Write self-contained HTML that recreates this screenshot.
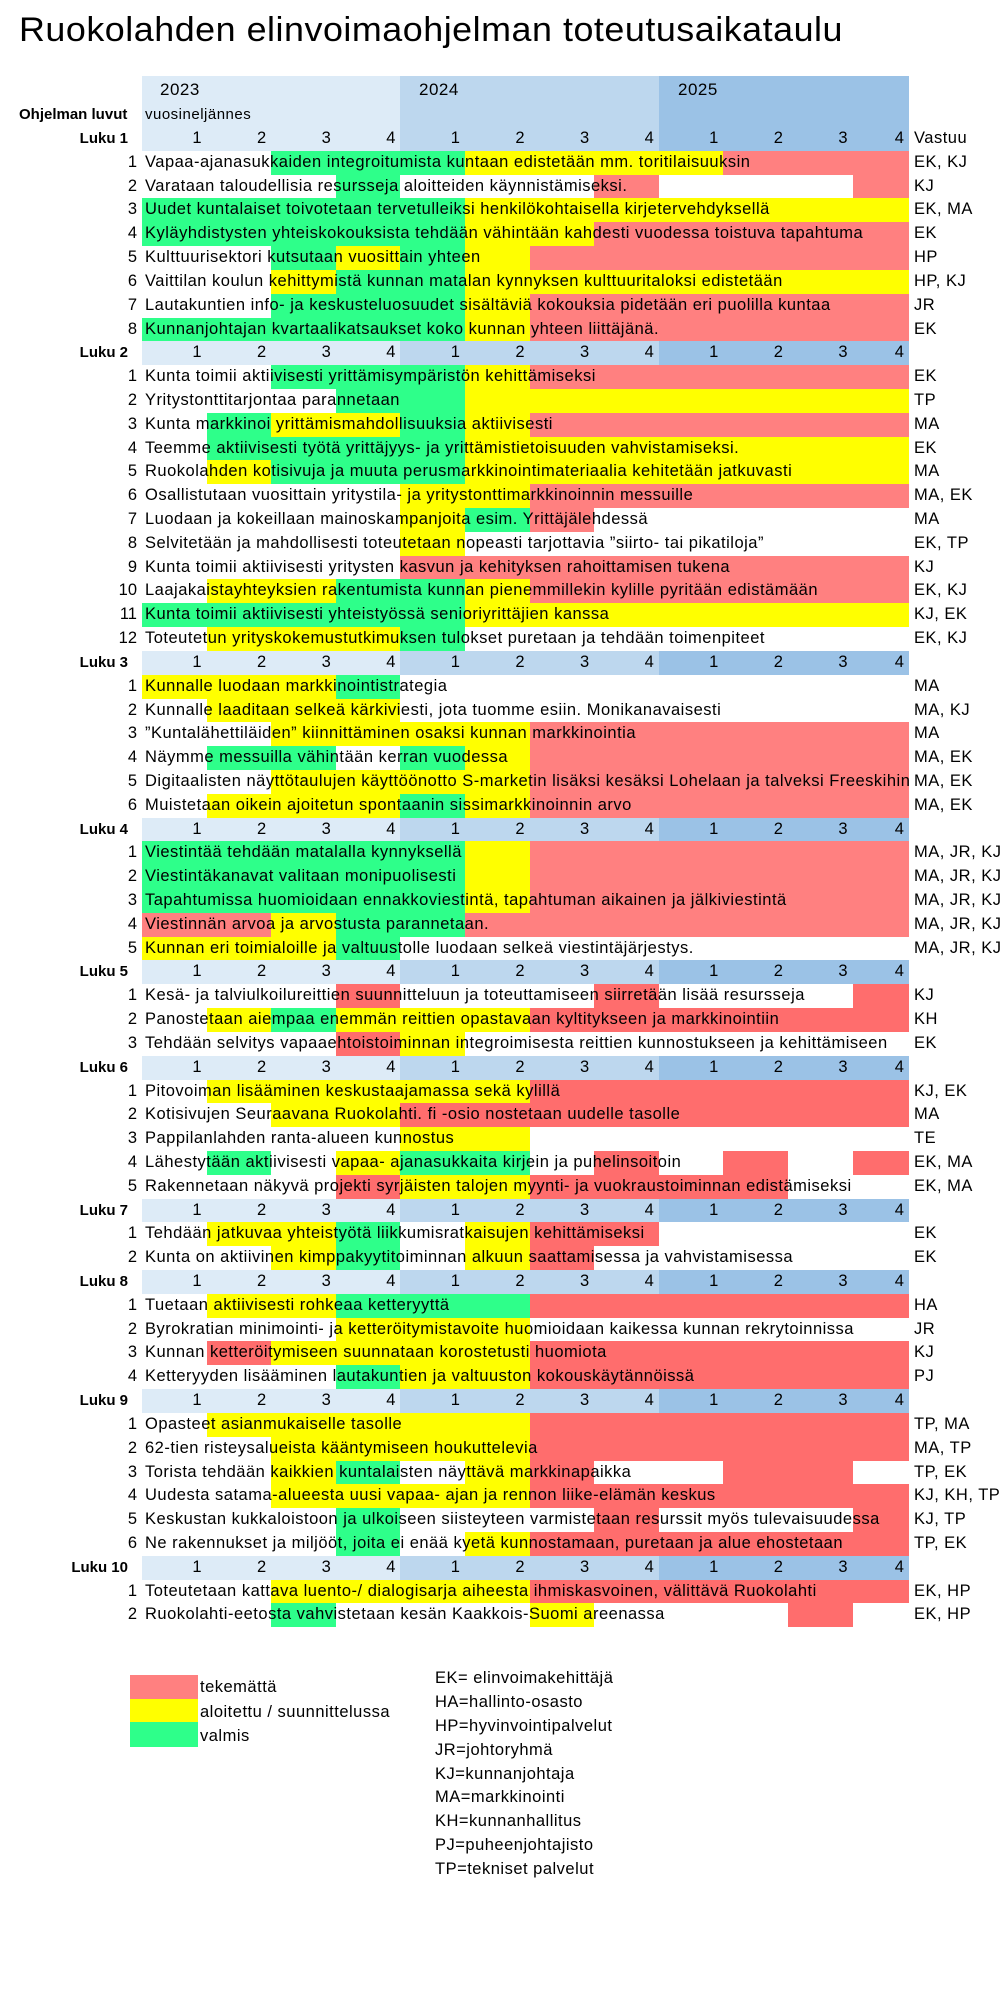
<!DOCTYPE html>
<html><head><meta charset="utf-8"><style>
body{margin:0;width:1001px;height:2000px;position:relative;font-family:"Liberation Sans",sans-serif;font-size:16.5px;letter-spacing:0.5px;background:#fff;overflow:hidden;color:#000}
.hd{position:absolute;top:76px;height:51px}
.r{position:relative;height:23.82px;line-height:23.82px;white-space:nowrap}
.g{position:absolute;left:142px;top:0;height:100%;display:grid;grid-template-columns:repeat(11,64.6px) 56.4px;letter-spacing:0}
.g i{display:block;font-style:normal;text-align:right;padding-right:5px;height:100%}
.n{position:absolute;left:0;width:137px;text-align:right;letter-spacing:0}
.t{position:absolute;left:145px}
.v{position:absolute;left:914px}
.l{position:absolute;left:0;width:128px;text-align:right;font-weight:bold;font-size:15px;letter-spacing:0}
.R{background:#FF8080}.S{background:#FF6D6D}.Y{background:#FFFF00}.G{background:#2EFF8A}.W{}
.a{background:#DDEBF7}.b{background:#BDD7EE}.c{background:#9BC2E6}
#rows{position:absolute;top:127px;left:0;width:1001px}
.lg{position:absolute;left:130px;width:68px}
.lt{position:absolute;left:200px;line-height:24px}
.ab{position:absolute;left:435px;line-height:24px}
</style></head><body>
<svg style="position:absolute;left:0;top:0" width="1001" height="60"><text x="19" y="41" font-family="Liberation Sans, sans-serif" font-size="34" textLength="824" lengthAdjust="spacingAndGlyphs">Ruokolahden elinvoimaohjelman toteutusaikataulu</text></svg>
<div class="hd a" style="left:142px;width:258px"></div>
<div class="hd b" style="left:400px;width:259px"></div>
<div class="hd c" style="left:659px;width:250px"></div>
<div style="position:absolute;left:160px;top:80px;font-size:17px">2023</div>
<div style="position:absolute;left:419px;top:80px;font-size:17px">2024</div>
<div style="position:absolute;left:678px;top:80px;font-size:17px">2025</div>
<div style="position:absolute;left:19px;top:106px;font-size:15px;font-weight:bold;letter-spacing:0">Ohjelman luvut</div>
<div style="position:absolute;left:145px;top:106px;font-size:15px">vuosineljännes</div>
<div id="rows">
<div class="r"><b class="l">Luku 1</b><div class="g"><i class="a">1</i><i class="a">2</i><i class="a">3</i><i class="a">4</i><i class="b">1</i><i class="b">2</i><i class="b">3</i><i class="b">4</i><i class="c">1</i><i class="c">2</i><i class="c">3</i><i class="c">4</i></div><span class="v">Vastuu</span></div>
<div class="r"><span class="n">1</span><div class="g"><i class="W"></i><i class="W"></i><i class="G"></i><i class="G"></i><i class="G"></i><i class="Y"></i><i class="Y"></i><i class="Y"></i><i class="Y"></i><i class="R"></i><i class="R"></i><i class="R"></i></div><span class="t">Vapaa-ajanasukkaiden integroitumista kuntaan edistetään mm. toritilaisuuksin</span><span class="v">EK, KJ</span></div>
<div class="r"><span class="n">2</span><div class="g"><i class="W"></i><i class="W"></i><i class="W"></i><i class="G"></i><i class="W"></i><i class="W"></i><i class="W"></i><i class="R"></i><i class="W"></i><i class="W"></i><i class="W"></i><i class="R"></i></div><span class="t">Varataan taloudellisia resursseja aloitteiden käynnistämiseksi.</span><span class="v">KJ</span></div>
<div class="r"><span class="n">3</span><div class="g"><i class="G"></i><i class="G"></i><i class="G"></i><i class="G"></i><i class="G"></i><i class="Y"></i><i class="Y"></i><i class="Y"></i><i class="Y"></i><i class="Y"></i><i class="Y"></i><i class="Y"></i></div><span class="t">Uudet kuntalaiset toivotetaan tervetulleiksi henkilökohtaisella kirjetervehdyksellä</span><span class="v">EK, MA</span></div>
<div class="r"><span class="n">4</span><div class="g"><i class="G"></i><i class="G"></i><i class="G"></i><i class="G"></i><i class="G"></i><i class="Y"></i><i class="Y"></i><i class="R"></i><i class="R"></i><i class="R"></i><i class="R"></i><i class="R"></i></div><span class="t">Kyläyhdistysten yhteiskokouksista tehdään vähintään kahdesti vuodessa toistuva tapahtuma</span><span class="v">EK</span></div>
<div class="r"><span class="n">5</span><div class="g"><i class="W"></i><i class="W"></i><i class="G"></i><i class="Y"></i><i class="G"></i><i class="Y"></i><i class="R"></i><i class="R"></i><i class="R"></i><i class="R"></i><i class="R"></i><i class="R"></i></div><span class="t">Kulttuurisektori kutsutaan vuosittain yhteen</span><span class="v">HP</span></div>
<div class="r"><span class="n">6</span><div class="g"><i class="W"></i><i class="W"></i><i class="Y"></i><i class="G"></i><i class="G"></i><i class="Y"></i><i class="Y"></i><i class="Y"></i><i class="Y"></i><i class="Y"></i><i class="Y"></i><i class="Y"></i></div><span class="t">Vaittilan koulun kehittymistä kunnan matalan kynnyksen kulttuuritaloksi edistetään</span><span class="v">HP, KJ</span></div>
<div class="r"><span class="n">7</span><div class="g"><i class="W"></i><i class="W"></i><i class="G"></i><i class="G"></i><i class="G"></i><i class="Y"></i><i class="R"></i><i class="R"></i><i class="R"></i><i class="R"></i><i class="R"></i><i class="R"></i></div><span class="t">Lautakuntien info- ja keskusteluosuudet sisältäviä kokouksia pidetään eri puolilla kuntaa</span><span class="v">JR</span></div>
<div class="r"><span class="n">8</span><div class="g"><i class="G"></i><i class="G"></i><i class="G"></i><i class="G"></i><i class="G"></i><i class="Y"></i><i class="R"></i><i class="R"></i><i class="R"></i><i class="R"></i><i class="R"></i><i class="R"></i></div><span class="t">Kunnanjohtajan kvartaalikatsaukset koko kunnan yhteen liittäjänä.</span><span class="v">EK</span></div>

<div class="r"><b class="l">Luku 2</b><div class="g"><i class="a">1</i><i class="a">2</i><i class="a">3</i><i class="a">4</i><i class="b">1</i><i class="b">2</i><i class="b">3</i><i class="b">4</i><i class="c">1</i><i class="c">2</i><i class="c">3</i><i class="c">4</i></div></div>
<div class="r"><span class="n">1</span><div class="g"><i class="W"></i><i class="W"></i><i class="G"></i><i class="G"></i><i class="G"></i><i class="Y"></i><i class="R"></i><i class="R"></i><i class="R"></i><i class="R"></i><i class="R"></i><i class="R"></i></div><span class="t">Kunta toimii aktiivisesti yrittämisympäristön kehittämiseksi</span><span class="v">EK</span></div>
<div class="r"><span class="n">2</span><div class="g"><i class="W"></i><i class="W"></i><i class="W"></i><i class="G"></i><i class="G"></i><i class="Y"></i><i class="Y"></i><i class="Y"></i><i class="Y"></i><i class="Y"></i><i class="Y"></i><i class="Y"></i></div><span class="t">Yritystonttitarjontaa parannetaan</span><span class="v">TP</span></div>
<div class="r"><span class="n">3</span><div class="g"><i class="W"></i><i class="G"></i><i class="Y"></i><i class="Y"></i><i class="G"></i><i class="Y"></i><i class="R"></i><i class="R"></i><i class="R"></i><i class="R"></i><i class="R"></i><i class="R"></i></div><span class="t">Kunta markkinoi yrittämismahdollisuuksia aktiivisesti</span><span class="v">MA</span></div>
<div class="r"><span class="n">4</span><div class="g"><i class="W"></i><i class="G"></i><i class="G"></i><i class="G"></i><i class="G"></i><i class="Y"></i><i class="Y"></i><i class="Y"></i><i class="Y"></i><i class="Y"></i><i class="Y"></i><i class="Y"></i></div><span class="t">Teemme aktiivisesti työtä yrittäjyys- ja yrittämistietoisuuden vahvistamiseksi.</span><span class="v">EK</span></div>
<div class="r"><span class="n">5</span><div class="g"><i class="W"></i><i class="Y"></i><i class="G"></i><i class="G"></i><i class="G"></i><i class="Y"></i><i class="Y"></i><i class="Y"></i><i class="Y"></i><i class="Y"></i><i class="Y"></i><i class="Y"></i></div><span class="t">Ruokolahden kotisivuja ja muuta perusmarkkinointimateriaalia kehitetään jatkuvasti</span><span class="v">MA</span></div>
<div class="r"><span class="n">6</span><div class="g"><i class="W"></i><i class="W"></i><i class="W"></i><i class="W"></i><i class="Y"></i><i class="Y"></i><i class="R"></i><i class="R"></i><i class="R"></i><i class="R"></i><i class="R"></i><i class="R"></i></div><span class="t">Osallistutaan vuosittain yritystila- ja yritystonttimarkkinoinnin messuille</span><span class="v">MA, EK</span></div>
<div class="r"><span class="n">7</span><div class="g"><i class="W"></i><i class="W"></i><i class="W"></i><i class="W"></i><i class="Y"></i><i class="G"></i><i class="R"></i><i class="W"></i><i class="W"></i><i class="W"></i><i class="W"></i><i class="W"></i></div><span class="t">Luodaan ja kokeillaan mainoskampanjoita esim. Yrittäjälehdessä</span><span class="v">MA</span></div>
<div class="r"><span class="n">8</span><div class="g"><i class="W"></i><i class="W"></i><i class="W"></i><i class="W"></i><i class="Y"></i><i class="W"></i><i class="W"></i><i class="W"></i><i class="W"></i><i class="W"></i><i class="W"></i><i class="W"></i></div><span class="t">Selvitetään ja mahdollisesti toteutetaan nopeasti tarjottavia ”siirto- tai pikatiloja”</span><span class="v">EK, TP</span></div>
<div class="r"><span class="n">9</span><div class="g"><i class="W"></i><i class="W"></i><i class="W"></i><i class="W"></i><i class="R"></i><i class="R"></i><i class="R"></i><i class="R"></i><i class="R"></i><i class="R"></i><i class="R"></i><i class="R"></i></div><span class="t">Kunta toimii aktiivisesti yritysten kasvun ja kehityksen rahoittamisen tukena</span><span class="v">KJ</span></div>
<div class="r"><span class="n">10</span><div class="g"><i class="W"></i><i class="Y"></i><i class="Y"></i><i class="G"></i><i class="G"></i><i class="Y"></i><i class="R"></i><i class="R"></i><i class="R"></i><i class="R"></i><i class="R"></i><i class="R"></i></div><span class="t">Laajakaistayhteyksien rakentumista kunnan pienemmillekin kylille pyritään edistämään</span><span class="v">EK, KJ</span></div>
<div class="r"><span class="n">11</span><div class="g"><i class="G"></i><i class="G"></i><i class="G"></i><i class="G"></i><i class="G"></i><i class="Y"></i><i class="Y"></i><i class="Y"></i><i class="Y"></i><i class="Y"></i><i class="Y"></i><i class="Y"></i></div><span class="t">Kunta toimii aktiivisesti yhteistyössä senioriyrittäjien kanssa</span><span class="v">KJ, EK</span></div>
<div class="r"><span class="n">12</span><div class="g"><i class="W"></i><i class="Y"></i><i class="Y"></i><i class="Y"></i><i class="G"></i><i class="W"></i><i class="W"></i><i class="W"></i><i class="W"></i><i class="W"></i><i class="W"></i><i class="W"></i></div><span class="t">Toteutetun yrityskokemustutkimuksen tulokset puretaan ja tehdään toimenpiteet</span><span class="v">EK, KJ</span></div>

<div class="r"><b class="l">Luku 3</b><div class="g"><i class="a">1</i><i class="a">2</i><i class="a">3</i><i class="a">4</i><i class="b">1</i><i class="b">2</i><i class="b">3</i><i class="b">4</i><i class="c">1</i><i class="c">2</i><i class="c">3</i><i class="c">4</i></div></div>
<div class="r"><span class="n">1</span><div class="g"><i class="Y"></i><i class="Y"></i><i class="Y"></i><i class="G"></i><i class="W"></i><i class="W"></i><i class="W"></i><i class="W"></i><i class="W"></i><i class="W"></i><i class="W"></i><i class="W"></i></div><span class="t">Kunnalle luodaan markkinointistrategia</span><span class="v">MA</span></div>
<div class="r"><span class="n">2</span><div class="g"><i class="W"></i><i class="Y"></i><i class="Y"></i><i class="Y"></i><i class="W"></i><i class="W"></i><i class="W"></i><i class="W"></i><i class="W"></i><i class="W"></i><i class="W"></i><i class="W"></i></div><span class="t">Kunnalle laaditaan selkeä kärkiviesti, jota tuomme esiin. Monikanavaisesti</span><span class="v">MA, KJ</span></div>
<div class="r"><span class="n">3</span><div class="g"><i class="W"></i><i class="W"></i><i class="Y"></i><i class="Y"></i><i class="Y"></i><i class="Y"></i><i class="R"></i><i class="R"></i><i class="R"></i><i class="R"></i><i class="R"></i><i class="R"></i></div><span class="t">”Kuntalähettiläiden” kiinnittäminen osaksi kunnan markkinointia</span><span class="v">MA</span></div>
<div class="r"><span class="n">4</span><div class="g"><i class="W"></i><i class="G"></i><i class="G"></i><i class="W"></i><i class="G"></i><i class="Y"></i><i class="R"></i><i class="R"></i><i class="R"></i><i class="R"></i><i class="R"></i><i class="R"></i></div><span class="t">Näymme messuilla vähintään kerran vuodessa</span><span class="v">MA, EK</span></div>
<div class="r"><span class="n">5</span><div class="g"><i class="W"></i><i class="W"></i><i class="Y"></i><i class="Y"></i><i class="Y"></i><i class="Y"></i><i class="R"></i><i class="R"></i><i class="R"></i><i class="R"></i><i class="R"></i><i class="R"></i></div><span class="t">Digitaalisten näyttötaulujen käyttöönotto S-marketin lisäksi kesäksi Lohelaan ja talveksi Freeskihin</span><span class="v">MA, EK</span></div>
<div class="r"><span class="n">6</span><div class="g"><i class="W"></i><i class="Y"></i><i class="Y"></i><i class="Y"></i><i class="G"></i><i class="Y"></i><i class="R"></i><i class="R"></i><i class="R"></i><i class="R"></i><i class="R"></i><i class="R"></i></div><span class="t">Muistetaan oikein ajoitetun spontaanin sissimarkkinoinnin arvo</span><span class="v">MA, EK</span></div>

<div class="r"><b class="l">Luku 4</b><div class="g"><i class="a">1</i><i class="a">2</i><i class="a">3</i><i class="a">4</i><i class="b">1</i><i class="b">2</i><i class="b">3</i><i class="b">4</i><i class="c">1</i><i class="c">2</i><i class="c">3</i><i class="c">4</i></div></div>
<div class="r"><span class="n">1</span><div class="g"><i class="G"></i><i class="G"></i><i class="G"></i><i class="G"></i><i class="G"></i><i class="Y"></i><i class="R"></i><i class="R"></i><i class="R"></i><i class="R"></i><i class="R"></i><i class="R"></i></div><span class="t">Viestintää tehdään matalalla kynnyksellä</span><span class="v">MA, JR, KJ</span></div>
<div class="r"><span class="n">2</span><div class="g"><i class="G"></i><i class="G"></i><i class="G"></i><i class="G"></i><i class="G"></i><i class="Y"></i><i class="R"></i><i class="R"></i><i class="R"></i><i class="R"></i><i class="R"></i><i class="R"></i></div><span class="t">Viestintäkanavat valitaan monipuolisesti</span><span class="v">MA, JR, KJ</span></div>
<div class="r"><span class="n">3</span><div class="g"><i class="G"></i><i class="G"></i><i class="G"></i><i class="G"></i><i class="G"></i><i class="Y"></i><i class="R"></i><i class="R"></i><i class="R"></i><i class="R"></i><i class="R"></i><i class="R"></i></div><span class="t">Tapahtumissa huomioidaan ennakkoviestintä, tapahtuman aikainen ja jälkiviestintä</span><span class="v">MA, JR, KJ</span></div>
<div class="r"><span class="n">4</span><div class="g"><i class="R"></i><i class="R"></i><i class="Y"></i><i class="G"></i><i class="G"></i><i class="R"></i><i class="R"></i><i class="R"></i><i class="R"></i><i class="R"></i><i class="R"></i><i class="R"></i></div><span class="t">Viestinnän arvoa ja arvostusta parannetaan.</span><span class="v">MA, JR, KJ</span></div>
<div class="r"><span class="n">5</span><div class="g"><i class="Y"></i><i class="Y"></i><i class="Y"></i><i class="G"></i><i class="W"></i><i class="W"></i><i class="W"></i><i class="W"></i><i class="W"></i><i class="W"></i><i class="W"></i><i class="W"></i></div><span class="t">Kunnan eri toimialoille ja valtuustolle luodaan selkeä viestintäjärjestys.</span><span class="v">MA, JR, KJ</span></div>

<div class="r"><b class="l">Luku 5</b><div class="g"><i class="a">1</i><i class="a">2</i><i class="a">3</i><i class="a">4</i><i class="b">1</i><i class="b">2</i><i class="b">3</i><i class="b">4</i><i class="c">1</i><i class="c">2</i><i class="c">3</i><i class="c">4</i></div></div>
<div class="r"><span class="n">1</span><div class="g"><i class="W"></i><i class="W"></i><i class="W"></i><i class="S"></i><i class="W"></i><i class="W"></i><i class="W"></i><i class="S"></i><i class="W"></i><i class="W"></i><i class="W"></i><i class="S"></i></div><span class="t">Kesä- ja talviulkoilureittien suunnitteluun ja toteuttamiseen siirretään lisää resursseja</span><span class="v">KJ</span></div>
<div class="r"><span class="n">2</span><div class="g"><i class="W"></i><i class="Y"></i><i class="G"></i><i class="Y"></i><i class="Y"></i><i class="Y"></i><i class="S"></i><i class="S"></i><i class="S"></i><i class="S"></i><i class="S"></i><i class="S"></i></div><span class="t">Panostetaan aiempaa enemmän reittien opastavaan kyltitykseen ja markkinointiin</span><span class="v">KH</span></div>
<div class="r"><span class="n">3</span><div class="g"><i class="W"></i><i class="W"></i><i class="W"></i><i class="S"></i><i class="Y"></i><i class="W"></i><i class="W"></i><i class="W"></i><i class="W"></i><i class="W"></i><i class="W"></i><i class="W"></i></div><span class="t">Tehdään selvitys vapaaehtoistoiminnan integroimisesta reittien kunnostukseen ja kehittämiseen</span><span class="v">EK</span></div>

<div class="r"><b class="l">Luku 6</b><div class="g"><i class="a">1</i><i class="a">2</i><i class="a">3</i><i class="a">4</i><i class="b">1</i><i class="b">2</i><i class="b">3</i><i class="b">4</i><i class="c">1</i><i class="c">2</i><i class="c">3</i><i class="c">4</i></div></div>
<div class="r"><span class="n">1</span><div class="g"><i class="W"></i><i class="Y"></i><i class="Y"></i><i class="Y"></i><i class="Y"></i><i class="Y"></i><i class="S"></i><i class="S"></i><i class="S"></i><i class="S"></i><i class="S"></i><i class="S"></i></div><span class="t">Pitovoiman lisääminen keskustaajamassa sekä kylillä</span><span class="v">KJ, EK</span></div>
<div class="r"><span class="n">2</span><div class="g"><i class="W"></i><i class="W"></i><i class="Y"></i><i class="Y"></i><i class="S"></i><i class="S"></i><i class="S"></i><i class="S"></i><i class="S"></i><i class="S"></i><i class="S"></i><i class="S"></i></div><span class="t">Kotisivujen Seuraavana Ruokolahti. fi -osio nostetaan uudelle tasolle</span><span class="v">MA</span></div>
<div class="r"><span class="n">3</span><div class="g"><i class="W"></i><i class="W"></i><i class="W"></i><i class="W"></i><i class="Y"></i><i class="Y"></i><i class="W"></i><i class="W"></i><i class="W"></i><i class="W"></i><i class="W"></i><i class="W"></i></div><span class="t">Pappilanlahden ranta-alueen kunnostus</span><span class="v">TE</span></div>
<div class="r"><span class="n">4</span><div class="g"><i class="W"></i><i class="G"></i><i class="W"></i><i class="Y"></i><i class="G"></i><i class="G"></i><i class="W"></i><i class="S"></i><i class="W"></i><i class="S"></i><i class="W"></i><i class="S"></i></div><span class="t">Lähestytään aktiivisesti vapaa- ajanasukkaita kirjein ja puhelinsoitoin</span><span class="v">EK, MA</span></div>
<div class="r"><span class="n">5</span><div class="g"><i class="W"></i><i class="W"></i><i class="W"></i><i class="S"></i><i class="Y"></i><i class="Y"></i><i class="S"></i><i class="S"></i><i class="S"></i><i class="S"></i><i class="W"></i><i class="W"></i></div><span class="t">Rakennetaan näkyvä projekti syrjäisten talojen myynti- ja vuokraustoiminnan edistämiseksi</span><span class="v">EK, MA</span></div>

<div class="r"><b class="l">Luku 7</b><div class="g"><i class="a">1</i><i class="a">2</i><i class="a">3</i><i class="a">4</i><i class="b">1</i><i class="b">2</i><i class="b">3</i><i class="b">4</i><i class="c">1</i><i class="c">2</i><i class="c">3</i><i class="c">4</i></div></div>
<div class="r"><span class="n">1</span><div class="g"><i class="W"></i><i class="Y"></i><i class="Y"></i><i class="G"></i><i class="W"></i><i class="Y"></i><i class="S"></i><i class="S"></i><i class="W"></i><i class="W"></i><i class="W"></i><i class="W"></i></div><span class="t">Tehdään jatkuvaa yhteistyötä liikkumisratkaisujen kehittämiseksi</span><span class="v">EK</span></div>
<div class="r"><span class="n">2</span><div class="g"><i class="W"></i><i class="W"></i><i class="Y"></i><i class="G"></i><i class="W"></i><i class="Y"></i><i class="S"></i><i class="W"></i><i class="W"></i><i class="W"></i><i class="W"></i><i class="W"></i></div><span class="t">Kunta on aktiivinen kimppakyytitoiminnan alkuun saattamisessa ja vahvistamisessa</span><span class="v">EK</span></div>

<div class="r"><b class="l">Luku 8</b><div class="g"><i class="a">1</i><i class="a">2</i><i class="a">3</i><i class="a">4</i><i class="b">1</i><i class="b">2</i><i class="b">3</i><i class="b">4</i><i class="c">1</i><i class="c">2</i><i class="c">3</i><i class="c">4</i></div></div>
<div class="r"><span class="n">1</span><div class="g"><i class="W"></i><i class="Y"></i><i class="Y"></i><i class="G"></i><i class="G"></i><i class="G"></i><i class="S"></i><i class="S"></i><i class="S"></i><i class="S"></i><i class="S"></i><i class="S"></i></div><span class="t">Tuetaan aktiivisesti rohkeaa ketteryyttä</span><span class="v">HA</span></div>
<div class="r"><span class="n">2</span><div class="g"><i class="W"></i><i class="W"></i><i class="W"></i><i class="Y"></i><i class="Y"></i><i class="Y"></i><i class="W"></i><i class="W"></i><i class="W"></i><i class="W"></i><i class="W"></i><i class="W"></i></div><span class="t">Byrokratian minimointi- ja ketteröitymistavoite huomioidaan kaikessa kunnan rekrytoinnissa</span><span class="v">JR</span></div>
<div class="r"><span class="n">3</span><div class="g"><i class="W"></i><i class="S"></i><i class="Y"></i><i class="Y"></i><i class="Y"></i><i class="Y"></i><i class="S"></i><i class="S"></i><i class="S"></i><i class="S"></i><i class="S"></i><i class="S"></i></div><span class="t">Kunnan ketteröitymiseen suunnataan korostetusti huomiota</span><span class="v">KJ</span></div>
<div class="r"><span class="n">4</span><div class="g"><i class="W"></i><i class="W"></i><i class="W"></i><i class="G"></i><i class="Y"></i><i class="Y"></i><i class="S"></i><i class="S"></i><i class="S"></i><i class="S"></i><i class="S"></i><i class="S"></i></div><span class="t">Ketteryyden lisääminen lautakuntien ja valtuuston kokouskäytännöissä</span><span class="v">PJ</span></div>

<div class="r"><b class="l">Luku 9</b><div class="g"><i class="a">1</i><i class="a">2</i><i class="a">3</i><i class="a">4</i><i class="b">1</i><i class="b">2</i><i class="b">3</i><i class="b">4</i><i class="c">1</i><i class="c">2</i><i class="c">3</i><i class="c">4</i></div></div>
<div class="r"><span class="n">1</span><div class="g"><i class="W"></i><i class="Y"></i><i class="Y"></i><i class="Y"></i><i class="Y"></i><i class="Y"></i><i class="S"></i><i class="S"></i><i class="S"></i><i class="S"></i><i class="S"></i><i class="S"></i></div><span class="t">Opasteet asianmukaiselle tasolle</span><span class="v">TP, MA</span></div>
<div class="r"><span class="n">2</span><div class="g"><i class="W"></i><i class="W"></i><i class="Y"></i><i class="Y"></i><i class="Y"></i><i class="Y"></i><i class="S"></i><i class="S"></i><i class="S"></i><i class="S"></i><i class="S"></i><i class="S"></i></div><span class="t">62-tien risteysalueista kääntymiseen houkuttelevia</span><span class="v">MA, TP</span></div>
<div class="r"><span class="n">3</span><div class="g"><i class="W"></i><i class="W"></i><i class="Y"></i><i class="G"></i><i class="W"></i><i class="Y"></i><i class="S"></i><i class="W"></i><i class="W"></i><i class="S"></i><i class="S"></i><i class="W"></i></div><span class="t">Torista tehdään kaikkien kuntalaisten näyttävä markkinapaikka</span><span class="v">TP, EK</span></div>
<div class="r"><span class="n">4</span><div class="g"><i class="W"></i><i class="W"></i><i class="Y"></i><i class="Y"></i><i class="Y"></i><i class="Y"></i><i class="S"></i><i class="S"></i><i class="S"></i><i class="S"></i><i class="S"></i><i class="S"></i></div><span class="t">Uudesta satama-alueesta uusi vapaa- ajan ja rennon liike-elämän keskus</span><span class="v">KJ, KH, TP</span></div>
<div class="r"><span class="n">5</span><div class="g"><i class="W"></i><i class="W"></i><i class="W"></i><i class="G"></i><i class="W"></i><i class="W"></i><i class="W"></i><i class="S"></i><i class="W"></i><i class="W"></i><i class="W"></i><i class="S"></i></div><span class="t">Keskustan kukkaloistoon ja ulkoiseen siisteyteen varmistetaan resurssit myös tulevaisuudessa</span><span class="v">KJ, TP</span></div>
<div class="r"><span class="n">6</span><div class="g"><i class="W"></i><i class="W"></i><i class="W"></i><i class="G"></i><i class="W"></i><i class="Y"></i><i class="S"></i><i class="S"></i><i class="S"></i><i class="S"></i><i class="S"></i><i class="S"></i></div><span class="t">Ne rakennukset ja miljööt, joita ei enää kyetä kunnostamaan, puretaan ja alue ehostetaan</span><span class="v">TP, EK</span></div>

<div class="r"><b class="l">Luku 10</b><div class="g"><i class="a">1</i><i class="a">2</i><i class="a">3</i><i class="a">4</i><i class="b">1</i><i class="b">2</i><i class="b">3</i><i class="b">4</i><i class="c">1</i><i class="c">2</i><i class="c">3</i><i class="c">4</i></div></div>
<div class="r"><span class="n">1</span><div class="g"><i class="W"></i><i class="W"></i><i class="Y"></i><i class="Y"></i><i class="Y"></i><i class="Y"></i><i class="S"></i><i class="S"></i><i class="S"></i><i class="S"></i><i class="S"></i><i class="S"></i></div><span class="t">Toteutetaan kattava luento-/ dialogisarja aiheesta ihmiskasvoinen, välittävä Ruokolahti</span><span class="v">EK, HP</span></div>
<div class="r"><span class="n">2</span><div class="g"><i class="W"></i><i class="W"></i><i class="G"></i><i class="W"></i><i class="W"></i><i class="W"></i><i class="Y"></i><i class="W"></i><i class="W"></i><i class="W"></i><i class="S"></i><i class="W"></i></div><span class="t">Ruokolahti-eetosta vahvistetaan kesän Kaakkois-Suomi areenassa</span><span class="v">EK, HP</span></div>
</div>

<div class="lg R" style="top:1675px;height:24px"></div>
<div class="lg Y" style="top:1699px;height:23px"></div>
<div class="lg G" style="top:1722px;height:25px"></div>
<div class="lt" style="top:1675px">tekemättä</div>
<div class="lt" style="top:1700px">aloitettu / suunnittelussa</div>
<div class="lt" style="top:1724px">valmis</div>
<div class="ab" style="top:1666px">EK= elinvoimakehittäjä</div>
<div class="ab" style="top:1690px">HA=hallinto-osasto</div>
<div class="ab" style="top:1714px">HP=hyvinvointipalvelut</div>
<div class="ab" style="top:1738px">JR=johtoryhmä</div>
<div class="ab" style="top:1762px">KJ=kunnanjohtaja</div>
<div class="ab" style="top:1785px">MA=markkinointi</div>
<div class="ab" style="top:1809px">KH=kunnanhallitus</div>
<div class="ab" style="top:1833px">PJ=puheenjohtajisto</div>
<div class="ab" style="top:1857px">TP=tekniset palvelut</div>
</body></html>
